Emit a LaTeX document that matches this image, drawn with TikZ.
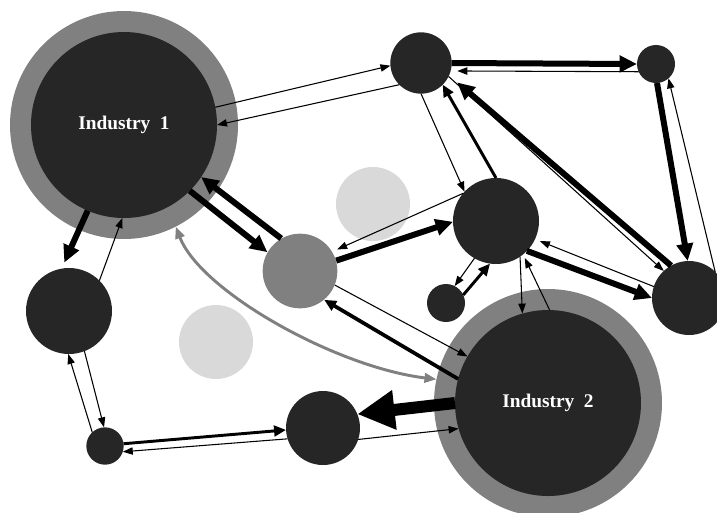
\documentclass[tikz,border=0pt]{standalone}
\usepackage{fontspec}
\setmainfont{Liberation Serif}
\usepackage{tikz}
\usetikzlibrary{arrows.meta}
\definecolor{hubdark}{RGB}{38, 38, 38}
\definecolor{ringgray}{RGB}{128, 128, 128}
\definecolor{ghostgray}{RGB}{217, 217, 217}

\begin{document}
\begin{tikzpicture}[x=0.75pt, y=-0.75pt,
    firm/.style={circle, fill=hubdark, inner sep=0pt, outer sep=0pt, minimum size=#1},
    hubring/.style={circle, fill=ringgray, inner sep=0pt, outer sep=0pt, minimum size=#1},
    ghost/.style={circle, fill=ghostgray, inner sep=0pt, minimum size=#1},
    hubtext/.style={text=white, font=\bfseries\fontsize{14.5}{16}\selectfont},
    thinflow/.style={-{Triangle[length=7.5pt, width=5.5pt]}, line width=0.8pt},
    medflow/.style={-{Triangle[length=9pt, width=8pt]}, line width=2.2pt},
    thickflow/.style={-{Triangle[length=13pt, width=12pt]}, line width=4.5pt},
    hugeflow/.style={-{Triangle[length=28pt, width=28pt]}, line width=9pt},
    linkflow/.style={{Triangle[length=9pt, width=7pt]}-{Triangle[length=9pt, width=7pt]}, line width=2.2pt, ringgray}]
    \useasboundingbox (0,0) rectangle (717,512);

    % Faded firms
    \foreach \n/\p in {ghostA/{(373,204)}, ghostB/{(216,342)}}
        \node[ghost=55.5pt] (\n) at \p {};

    % Industry hubs
    \node[hubring=171pt] (ind1ring) at (124,125) {};
    \node[firm=139.5pt, hubtext] (ind1) at (124,125) {\raisebox{-3pt}{Industry~~1}};
    \node[hubring=171pt] (ind2ring) at (548,403) {};
    \node[firm=139.5pt, hubtext] (ind2) at (548,403) {Industry~~2};

    % Other firms
    \node[firm=46pt] (nTop) at (421,63) {};
    \node[firm=28.5pt] (nTopRight) at (656,64) {};
    \node[firm=64.5pt] (nMid) at (496,221) {};
    \node[firm=55.5pt] (nRight) at (689,298) {};
    \node[firm=28.5pt] (nSmall) at (446,303) {};
    \node[circle, fill=ringgray, inner sep=0pt, minimum size=56pt] (nGray) at (300,271) {};
    \node[firm=64.5pt] (nLeft) at (69,311) {};
    \node[firm=28pt] (nBotLeft) at (105,446) {};
    \node[firm=55.5pt] (nBot) at (323,428) {};

    % Flows around Industry 1
    \draw[thinflow] (ind1.11) -- (nTop.185);
    \draw[thinflow] (nTop.225) -- (ind1.0);
    \draw[thickflow] (ind1.-45) -- (nGray.150);
    \draw[thickflow] (nGray.120) -- (ind1.-34);
    \draw[thickflow, shorten >=5pt] (ind1.247) -- (nLeft.100);
    \draw[thinflow] (nLeft.45) -- (ind1.-91);

    % Top and right
    \draw[thickflow] (nTop.0) -- (nTopRight.180);
    \draw[thinflow, shorten >=5pt] (nTopRight.204) -- (nTop.-15);
    \draw[thickflow] (nTopRight.-87) -- (nRight.92);
    \draw[thinflow] (nRight.45) -- (nTopRight.-49);
    \draw[thickflow, shorten >=8pt] (nRight.119) -- (nTop.-24);
    \draw[thinflow] (nTop.-26) -- (nRight.133);
    \draw[thinflow] (nTop.-90) -- (nMid.137);
    \draw[medflow] (nMid.90) -- (nTop.-45);

    % Middle
    \draw[thickflow] (nGray.16) -- (nMid.181);
    \draw[thinflow, shorten >=4pt] (nMid.140) -- (nGray.31);
    \draw[thickflow] (nMid.-44) -- (nRight.180);
    \draw[thinflow, shorten >=4pt] (nRight.162) -- (nMid.-25);
    \draw[thinflow] (nMid.240) -- (nSmall.63);
    \draw[medflow] (nSmall.25) -- (nMid.-98);
    \draw[thinflow] (nMid.-56) -- (ind2.106);
    \draw[thinflow, shorten >=3pt] (ind2.89) -- (nMid.-51);

    % Bottom chain
    \draw[thinflow] (nBotLeft.133) -- (nLeft.-91);
    \draw[thinflow] (nLeft.-69) -- (nBotLeft.93);
    \draw[medflow] (nBotLeft.7) -- (nBot.183);
    \draw[thinflow] (nBot.197) -- (nBotLeft.-18);
    \draw[hugeflow] (ind2.180) -- (nBot.22);
    \draw[thinflow] (nBot.-18) -- (ind2.196);
    \draw[medflow, line width=2.8pt] (ind2.165) -- (nGray.-50);
    \draw[thinflow] (nGray.-22) -- (ind2.150);

    % Link between the two industries
    \draw[linkflow] (ind1ring.-63) .. controls +(25,65) and +(-100,-12) .. (ind2ring.168);

\end{tikzpicture}
\end{document}
